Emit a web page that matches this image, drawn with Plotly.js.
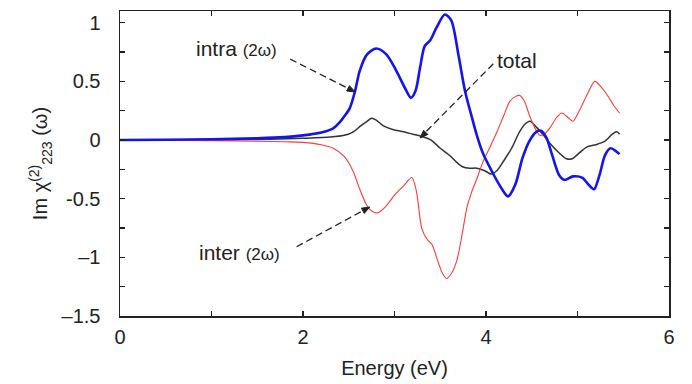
<!DOCTYPE html>
<html>
<head>
<meta charset="utf-8">
<script src="https://cdn.plot.ly/plotly-3.0.1.min.js"></script>
<style>html,body{margin:0;padding:0;background:#fff}#chart{width:692px;height:384px}</style>
</head>
<body>
<div id="chart"></div>
<script>
// intra (2ω) – blue
const intraX = [0, 0.5, 1.0, 1.5, 1.8, 2.0, 2.2, 2.33, 2.40, 2.45, 2.51, 2.57, 2.62, 2.70, 2.80, 2.91, 3.02, 3.11, 3.18, 3.23, 3.28, 3.33, 3.39, 3.46, 3.55, 3.62, 3.70, 3.77, 3.84, 3.90, 3.97, 4.08, 4.16, 4.24, 4.32, 4.40, 4.48, 4.55, 4.60, 4.66, 4.72, 4.80, 4.86, 4.95, 5.05, 5.12, 5.18, 5.24, 5.30, 5.36, 5.46];
const intraY = [0, 0.003, 0.007, 0.015, 0.025, 0.04, 0.065, 0.10, 0.15, 0.20, 0.27, 0.42, 0.59, 0.73, 0.78, 0.73, 0.59, 0.45, 0.36, 0.42, 0.62, 0.80, 0.85, 0.96, 1.07, 1.02, 0.72, 0.42, 0.21, 0.04, -0.12, -0.29, -0.40, -0.48, -0.38, -0.15, 0.0, 0.07, 0.08, 0.02, -0.12, -0.30, -0.34, -0.31, -0.32, -0.38, -0.42, -0.30, -0.13, -0.07, -0.12];

// inter (2ω) – red
const interX = [0, 0.5, 1.0, 1.5, 1.8, 2.0, 2.2, 2.33, 2.45, 2.55, 2.62, 2.70, 2.76, 2.82, 2.90, 3.00, 3.10, 3.19, 3.24, 3.30, 3.36, 3.41, 3.46, 3.52, 3.57, 3.62, 3.68, 3.74, 3.79, 3.84, 3.90, 3.97, 4.05, 4.12, 4.20, 4.26, 4.32, 4.37, 4.42, 4.48, 4.55, 4.59, 4.65, 4.70, 4.77, 4.83, 4.90, 4.95, 5.02, 5.10, 5.19, 5.25, 5.32, 5.40, 5.46];
const interY = [0, -0.003, -0.006, -0.01, -0.015, -0.02, -0.04, -0.07, -0.14, -0.27, -0.42, -0.56, -0.61, -0.62, -0.57, -0.47, -0.39, -0.32, -0.44, -0.76, -0.85, -0.89, -1.0, -1.13, -1.18, -1.14, -1.03, -0.80, -0.58, -0.45, -0.33, -0.18, -0.05, 0.07, 0.22, 0.33, 0.37, 0.38, 0.33, 0.20, 0.08, 0.04, 0.06, 0.105, 0.19, 0.23, 0.19, 0.16, 0.25, 0.38, 0.50, 0.46, 0.39, 0.29, 0.23];

// total – black
const totalX = [0, 1.0, 1.5, 2.0, 2.3, 2.45, 2.55, 2.63, 2.70, 2.75, 2.80, 2.88, 2.98, 3.10, 3.20, 3.30, 3.40, 3.50, 3.60, 3.68, 3.75, 3.82, 3.90, 3.98, 4.06, 4.12, 4.20, 4.28, 4.36, 4.42, 4.48, 4.55, 4.62, 4.70, 4.80, 4.88, 4.94, 5.02, 5.10, 5.20, 5.30, 5.38, 5.43, 5.46];
const totalY = [0, 0.001, 0.005, 0.015, 0.025, 0.04, 0.07, 0.12, 0.16, 0.185, 0.17, 0.12, 0.09, 0.07, 0.05, 0.03, 0.0, -0.07, -0.13, -0.19, -0.23, -0.24, -0.24, -0.26, -0.29, -0.26, -0.17, -0.07, 0.06, 0.13, 0.16, 0.11, 0.05, -0.03, -0.11, -0.16, -0.16, -0.11, -0.06, -0.04, -0.01, 0.05, 0.07, 0.05];

const xTickVals = [0, 2, 4, 6];
const yTickVals = [-1.5, -1, -0.5, 0, 0.5, 1];
const yTickText = ['–1.5', '–1', '-0.5', '0', '0.5', '1'];

const FONT = 'Liberation Sans, Arial, sans-serif';

const traces = [
  {x: totalX, y: totalY, mode: 'lines', line: {color: '#333333', width: 1.5, shape: 'spline', smoothing: 0.8}, name: 'total'},
  {x: interX, y: interY, mode: 'lines', line: {color: '#ff3b3b', width: 1.1, shape: 'spline', smoothing: 0.8}, name: 'inter'},
  {x: intraX, y: intraY, mode: 'lines', line: {color: '#1414f0', width: 2.6, shape: 'spline', smoothing: 0.8}, name: 'intra'}
];

const dashLine = (x0, y0, x1, y1) => ({type: 'line', xref: 'x', yref: 'y', x0, y0, x1, y1, line: {color: '#222', width: 1.3, dash: '7px,4px'}});
// arrowhead: small filled triangle anchored at the tip, drawn in pixel units
const head = (x, y, path) => ({type: 'path', xref: 'x', yref: 'y', xsizemode: 'pixel', ysizemode: 'pixel', xanchor: x, yanchor: y, path, fillcolor: '#222', line: {color: '#222', width: 1}});

const layout = {
  width: 692, height: 384,
  margin: {l: 120, r: 23, t: 11, b: 68},
  paper_bgcolor: '#fff', plot_bgcolor: '#fff',
  showlegend: false,
  font: {family: FONT, size: 20, color: '#222'},
  xaxis: {
    range: [0, 6], tickvals: xTickVals, ticks: 'inside', ticklen: 5, tickwidth: 1.3, tickcolor: '#222',
    minor: {dtick: 1, ticks: 'inside', ticklen: 5, tickwidth: 1.3, tickcolor: '#222'},
    showline: true, linecolor: '#222', linewidth: 1.5, mirror: 'allticks', showgrid: false, zeroline: false,
    tickfont: {size: 20, family: FONT, color: '#222'}, ticklabelstandoff: 2,
    title: {text: 'Energy (eV)', font: {size: 20, family: FONT, color: '#222'}, standoff: 14}
  },
  yaxis: {
    range: [-1.5, 1.1], tickvals: yTickVals, ticktext: yTickText, ticks: 'inside', ticklen: 5, tickwidth: 1.3, tickcolor: '#222',
    minor: {dtick: 0.25, ticks: 'inside', ticklen: 5, tickwidth: 1.3, tickcolor: '#222'},
    showline: true, linecolor: '#222', linewidth: 1.5, mirror: 'allticks', showgrid: false, zeroline: false,
    tickfont: {size: 20, family: FONT, color: '#222'}, ticklabelstandoff: 14,
    title: {text: 'Im χ<sup>(2)</sup><sub>223</sub> (ω)', font: {size: 20, family: FONT, color: '#222'}, standoff: 8}
  },
  shapes: [
    dashLine(1.86, 0.69, 2.52, 0.43),
    dashLine(4.08, 0.65, 3.33, 0.06),
    dashLine(1.93, -0.91, 2.66, -0.60),
    head(2.57, 0.41, 'M0,0 L-5.7,6.3 L-8.5,0.9 Z'),
    head(3.28, 0.017, 'M0,0 L7.7,3.6 L3.5,7.8 Z'),
    head(2.73, -0.57, 'M0,0 L-8.4,-1.3 L-5.5,-6.5 Z')
  ],
  annotations: [
    {x: 1.27, y: 0.78, xref: 'x', yref: 'y', showarrow: false, text: 'intra <span style="font-size:17px">(2ω)</span>', font: {size: 21, family: FONT, color: '#222'}},
    {x: 4.34, y: 0.675, xref: 'x', yref: 'y', showarrow: false, text: 'total', font: {size: 21, family: FONT, color: '#222'}},
    {x: 1.31, y: -0.96, xref: 'x', yref: 'y', showarrow: false, text: 'inter <span style="font-size:17px">(2ω)</span>', font: {size: 21, family: FONT, color: '#222'}}
  ]
};

Plotly.newPlot('chart', traces, layout, {displayModeBar: false, staticPlot: true});
</script>
</body>
</html>
